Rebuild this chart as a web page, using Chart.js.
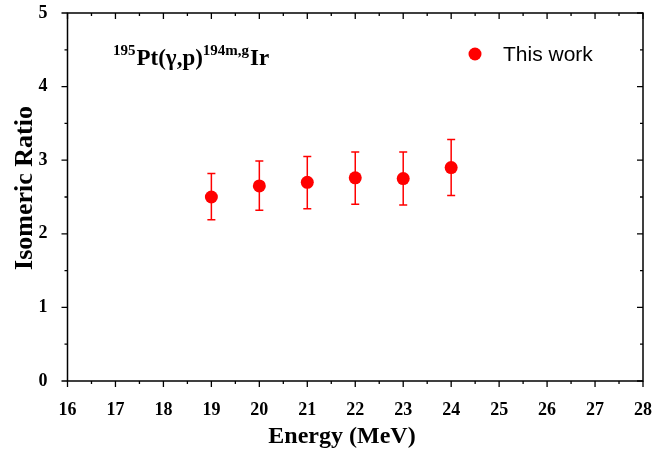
<!DOCTYPE html>
<html>
<head>
<meta charset="utf-8">
<script src="https://cdn.jsdelivr.net/npm/chart.js@4.4.1/dist/chart.umd.min.js"></script>
<style>
html,body{margin:0;padding:0;background:#fff;}
#wrap{width:657px;height:452px;position:relative;}
</style>
</head>
<body>
<div id="wrap"><canvas id="c" width="657" height="452"></canvas></div>
<script>
// ---- data ----
const energies = [19, 20, 21, 22, 23, 24];
const ratios   = [2.50, 2.65, 2.70, 2.76, 2.75, 2.90];
const errUpper = [2.82, 2.99, 3.05, 3.11, 3.11, 3.28];
const errLower = [2.19, 2.32, 2.34, 2.40, 2.39, 2.52];
const xTicks = [16, 17, 18, 19, 20, 21, 22, 23, 24, 25, 26, 27, 28];
const yTicks = [0, 1, 2, 3, 4, 5];
const seriesLabel = 'This work';
const xTitle = 'Energy (MeV)';
const yTitle = 'Isomeric Ratio';

const RED = '#ff0000';
const SERIF = '"Liberation Serif", "Times New Roman", serif';
const SANS = '"Liberation Sans", Arial, sans-serif';

const points = energies.map((e, i) => ({x: e, y: ratios[i], lo: errLower[i], hi: errUpper[i]}));

const errorBars = {
  id: 'errorBars',
  beforeDatasetsDraw(chart) {
    const ctx = chart.ctx, xs = chart.scales.x, ys = chart.scales.y;
    ctx.save();
    ctx.strokeStyle = RED;
    ctx.lineWidth = 1.5;
    points.forEach(p => {
      const px = xs.getPixelForValue(p.x);
      const yl = ys.getPixelForValue(p.lo), yh = ys.getPixelForValue(p.hi);
      ctx.beginPath();
      ctx.moveTo(px, yl); ctx.lineTo(px, yh);
      ctx.moveTo(px - 4, yl); ctx.lineTo(px + 4, yl);
      ctx.moveTo(px - 4, yh); ctx.lineTo(px + 4, yh);
      ctx.stroke();
    });
    ctx.restore();
  }
};

const frame = {
  id: 'frame',
  afterDraw(chart) {
    const ctx = chart.ctx, a = chart.chartArea, xs = chart.scales.x, ys = chart.scales.y;
    ctx.save();
    ctx.strokeStyle = '#000';
    ctx.lineWidth = 1.5;
    ctx.strokeRect(a.left, a.top, a.right - a.left, a.bottom - a.top);
    ctx.lineWidth = 1.3;
    ctx.beginPath();
    const MAJ = 6, MIN = 3;
    for (let v = xTicks[0]; v <= xTicks[xTicks.length - 1] + 1e-9; v += 0.5) {
      const px = xs.getPixelForValue(v);
      const major = Math.abs(v - Math.round(v)) < 1e-9;
      const L = major ? MAJ : MIN;
      ctx.moveTo(px, a.bottom); ctx.lineTo(px, a.bottom + L);   // outward bottom
      ctx.moveTo(px, a.top); ctx.lineTo(px, a.top + L);         // inward top
    }
    for (let v = yTicks[0]; v <= yTicks[yTicks.length - 1] + 1e-9; v += 0.5) {
      const py = ys.getPixelForValue(v);
      const major = Math.abs(v - Math.round(v)) < 1e-9;
      const L = major ? MAJ : MIN;
      ctx.moveTo(a.left, py); ctx.lineTo(a.left - L, py);       // outward left
      ctx.moveTo(a.right, py); ctx.lineTo(a.right - L, py);     // inward right
    }
    ctx.stroke();

    // axis titles
    ctx.fillStyle = '#000';
    ctx.textAlign = 'center';
    ctx.textBaseline = 'middle';
    ctx.font = 'bold 24px ' + SERIF;
    ctx.fillText(xTitle, a.left + 274.5, a.bottom + 56);
    ctx.save();
    ctx.translate(a.left - 42, a.top + 175);
    ctx.rotate(-Math.PI / 2);
    ctx.font = 'bold 26px ' + SERIF;
    ctx.fillText(yTitle, 0, 0);
    ctx.restore();

    // legend
    const lx = a.right - 168, ly = a.top + 41;
    ctx.fillStyle = RED;
    ctx.beginPath(); ctx.arc(lx, ly, 6.5, 0, Math.PI * 2); ctx.fill();
    ctx.fillStyle = '#000';
    ctx.font = '21px ' + SANS;
    ctx.textBaseline = 'middle';
    ctx.textAlign = 'left';
    ctx.fillText(seriesLabel, lx + 28, ly + 1);

    // reaction annotation
    let x = a.left + 45.5;
    const base = a.top + 52;
    ctx.textBaseline = 'alphabetic';
    const parts = [
      {t: '195', sup: true}, {t: 'Pt(γ,p)', sup: false},
      {t: '194m,g', sup: true}, {t: 'Ir', sup: false}
    ];
    parts.forEach(p => {
      ctx.font = 'bold ' + (p.sup ? 15 : 23) + 'px ' + SERIF;
      ctx.fillText(p.t, x, p.sup ? base - 10 : base);
      x += ctx.measureText(p.t).width + (p.sup ? 1 : 0);
    });
    ctx.restore();
  }
};

new Chart(document.getElementById('c'), {
  type: 'scatter',
  data: {
    datasets: [{
      label: seriesLabel,
      data: points,
      backgroundColor: RED,
      borderColor: RED,
      pointRadius: 6.5,
      pointHoverRadius: 6.5,
      borderWidth: 0
    }]
  },
  options: {
    responsive: false,
    animation: false,
    events: [],
    layout: {padding: {top: 13, right: 14, bottom: 0, left: 8}},
    plugins: {legend: {display: false}, tooltip: {enabled: false}},
    scales: {
      x: {
        type: 'linear', min: 16, max: 28,
        afterBuildTicks: s => { s.ticks = xTicks.map(v => ({value: v})); },
        afterFit: s => { s.height = 71; s.paddingLeft = 0; s.paddingRight = 0; },
        grid: {display: false},
        border: {display: false},
        ticks: {color: '#000', padding: 11, maxRotation: 0, autoSkip: false,
                font: {family: SERIF, size: 18, weight: 'bold'}},
        title: {display: false}
      },
      y: {
        type: 'linear', min: 0, max: 5,
        afterBuildTicks: s => { s.ticks = yTicks.map(v => ({value: v})); },
        afterFit: s => { s.width = 59.5; s.paddingTop = 0; s.paddingBottom = 0; },
        grid: {display: false},
        border: {display: false},
        ticks: {color: '#000', padding: 12, autoSkip: false,
                font: {family: SERIF, size: 18, weight: 'bold'}},
        title: {display: false}
      }
    }
  },
  plugins: [errorBars, frame]
});
</script>
</body>
</html>
